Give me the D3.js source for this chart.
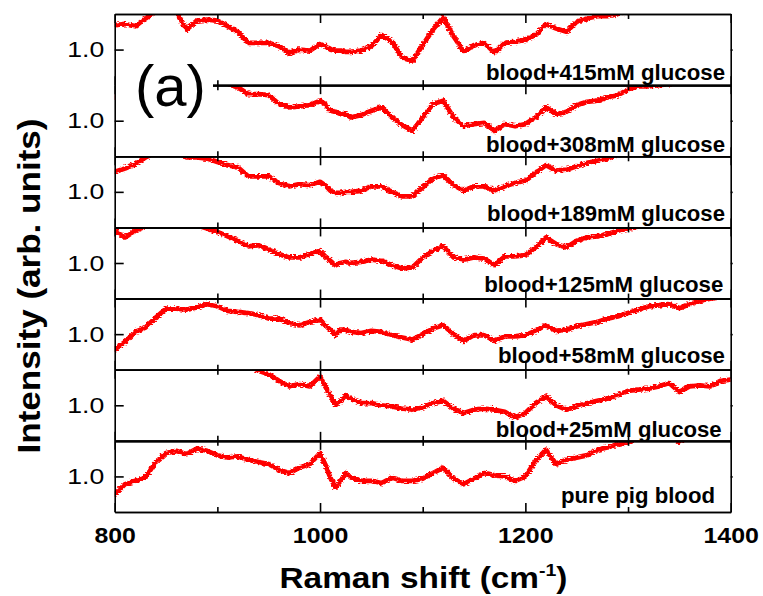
<!DOCTYPE html>
<html><head><meta charset="utf-8">
<script src="https://cdn.jsdelivr.net/npm/d3@7"></script>
<style>
body{margin:0;background:#fff;}
svg{display:block;}
text{font-family:"Liberation Sans",Arial,Helvetica,sans-serif;}
</style>
</head><body>
<svg id="chart" width="763" height="596"></svg>
<script>
// ---- data (Raman shift in cm^-1, intensity in arb. units) ----
const wavenumbers = [800,810,820,830,840,850,860,870,880,890,900,910,920,930,940,950,960,970,980,990,1000,
  1005,1010,1015,1020,1025,
  1030,1040,1050,1060,1070,1080,1090,1100,
  1110,1120,1130,1140,1150,1160,1170,1180,1190,1200,
  1210,1220,1230,1240,1250,1260,1270,1280,1290,1300,
  1310,1320,1330,1340,1350,1360,1370,1380,1390,1400];

const s415 = [1.22,1.23,1.21,1.28,1.34,1.36,1.34,1.18,1.26,1.27,1.26,1.21,1.16,1.06,1.06,1.06,1.03,0.97,1.00,0.99,1.05,
  1.03,1.00,0.99,0.99,0.98,
  0.98,0.99,1.03,1.13,1.07,0.93,0.90,1.04,
  1.18,1.29,1.12,0.98,1.04,1.06,0.97,1.06,1.07,1.09,
  1.13,1.23,1.19,1.16,1.25,1.28,1.30,1.30,1.32,1.34,
  1.36,1.38,1.39,1.40,1.42,1.43,1.44,1.45,1.46,1.47];

const s308 = [1.21,1.29,1.34,1.38,1.40,1.40,1.38,1.36,1.38,1.40,1.38,1.33,1.30,1.24,1.24,1.23,1.15,1.12,1.13,1.14,1.18,
  1.15,1.09,1.08,1.06,1.06,
  1.03,1.05,1.09,1.12,1.03,0.96,0.91,1.03,
  1.15,1.18,1.03,0.95,0.97,0.98,0.91,0.97,0.95,0.97,
  1.03,1.12,1.06,1.08,1.14,1.17,1.18,1.21,1.23,1.28,
  1.31,1.31,1.32,1.33,1.35,1.36,1.38,1.39,1.40,1.41];

const s189 = [1.18,1.21,1.25,1.31,1.35,1.37,1.36,1.31,1.31,1.30,1.27,1.24,1.22,1.14,1.14,1.14,1.08,1.05,1.07,1.06,1.09,
  1.06,1.01,0.99,0.99,1.00,
  1.00,1.01,1.05,1.05,1.00,0.96,0.96,1.04,
  1.12,1.15,1.06,1.01,1.05,1.05,1.01,1.05,1.08,1.10,
  1.17,1.24,1.19,1.20,1.23,1.26,1.28,1.30,1.33,1.35,
  1.37,1.39,1.40,1.42,1.43,1.45,1.46,1.47,1.48,1.49];

const s125 = [1.29,1.23,1.29,1.33,1.36,1.37,1.36,1.35,1.34,1.31,1.28,1.24,1.20,1.15,1.16,1.12,1.08,1.05,1.05,1.08,1.11,
  1.06,1.02,0.98,1.00,1.01,
  1.00,1.01,1.03,1.02,0.98,0.95,0.96,1.05,
  1.11,1.15,1.05,1.03,1.05,1.04,0.98,1.06,1.06,1.07,
  1.14,1.23,1.17,1.14,1.20,1.23,1.24,1.26,1.29,1.31,
  1.33,1.35,1.36,1.38,1.39,1.40,1.41,1.42,1.43,1.44];

const s58 = [0.86,0.93,1.02,1.06,1.15,1.23,1.23,1.22,1.24,1.27,1.25,1.21,1.20,1.19,1.17,1.14,1.14,1.10,1.08,1.11,1.13,
  1.08,1.04,0.99,1.04,1.04,
  1.02,1.01,1.03,1.02,0.99,0.97,0.95,1.00,
  1.05,1.08,1.00,0.94,0.99,0.99,0.94,0.98,0.98,0.99,
  1.03,1.08,1.03,1.04,1.07,1.09,1.11,1.14,1.16,1.19,
  1.22,1.25,1.26,1.27,1.23,1.27,1.30,1.32,1.33,1.34];

const s25 = [1.36,1.40,1.45,1.50,1.53,1.56,1.57,1.57,1.56,1.56,1.52,1.48,1.43,1.37,1.31,1.28,1.22,1.17,1.19,1.17,1.26,
  1.17,1.09,1.00,1.04,1.09,
  1.06,1.02,1.02,1.00,0.99,0.97,0.96,0.98,
  1.02,1.04,0.97,0.93,0.96,0.97,0.96,0.94,0.89,0.93,
  1.02,1.08,1.00,0.96,0.99,1.02,1.04,1.06,1.09,1.13,
  1.14,1.15,1.17,1.20,1.12,1.17,1.18,1.17,1.22,1.23];

const sPure = [0.84,0.93,0.96,0.99,1.13,1.21,1.23,1.20,1.25,1.23,1.19,1.17,1.18,1.15,1.13,1.11,1.06,1.03,1.08,1.11,1.21,
  1.11,0.99,0.90,0.96,1.03,
  0.99,0.96,0.96,0.94,0.99,0.96,0.96,0.98,
  1.03,1.08,0.98,0.93,0.98,1.03,1.01,1.00,0.96,1.00,
  1.14,1.24,1.11,1.15,1.17,1.19,1.24,1.26,1.29,1.31,
  1.33,1.35,1.37,1.38,1.31,1.38,1.40,1.41,1.42,1.43];

const seriesLabels = ["blood+415mM glucose","blood+308mM glucose","blood+189mM glucose",
  "blood+125mM glucose","blood+58mM glucose","blood+25mM glucose","pure pig blood"];
const xMajorTicks = [800,1000,1200,1400];
const xMinorTicks = [900,1100,1300];
const yTicks = [1.0];

// ---- layout ----
const plotLeft = 114.7, plotRight = 730.7, plotTop = 14, plotBottom = 512;
const allSeries = [s415, s308, s189, s125, s58, s25, sPure];
const nPanels = allSeries.length;
const panelH = (plotBottom - plotTop) / nPanels;
const labelBaseline = [80, 151.7, 221, 291.7, 363, 436.7, 502.7];
const labelRight = [725, 725, 725, 723.3, 725, 721.7, 715];
const labelWidth = [239, 239, 238, 239, 227, 226, 154];

const svg = d3.select("#chart");
svg.append("rect").attr("width", 763).attr("height", 596).attr("fill", "#fff");

const x = d3.scaleLinear().domain([800, 1400]).range([plotLeft, plotRight]);
const data = wavenumbers.map((w, j) => ({w, vals: allSeries.map(s => s[j])}));

const defs = svg.append("defs");
// rough, noisy-looking stroke (visual texture of a measured spectrum)
const flt = defs.append("filter").attr("id", "rough")
  .attr("x", "-2%").attr("y", "-20%").attr("width", "104%").attr("height", "140%");
flt.append("feTurbulence").attr("type", "fractalNoise").attr("baseFrequency", "0.35 0.9")
  .attr("numOctaves", 1).attr("seed", 3).attr("result", "noise");
flt.append("feDisplacementMap").attr("in", "SourceGraphic").attr("in2", "noise")
  .attr("scale", 5).attr("xChannelSelector", "R").attr("yChannelSelector", "G");

allSeries.forEach((series, i) => {
  const y0 = plotTop + i * panelH, y1 = y0 + panelH;
  const y = d3.scaleLinear().domain([0.68, 1.32]).range([y1, y0]);
  defs.append("clipPath").attr("id", "clip" + i)
    .append("rect").attr("x", plotLeft).attr("y", y0).attr("width", plotRight - plotLeft).attr("height", panelH);
  const line = d3.line().x(d => x(d.w)).y(d => y(d.vals[i]));
  svg.append("g").attr("clip-path", "url(#clip" + i + ")")
    .append("path").datum(data)
    .attr("filter", "url(#rough)")
    .attr("d", line)
    .attr("fill", "none").attr("stroke", "#ff0000")
    .attr("stroke-width", 4.8).attr("stroke-linejoin", "round").attr("stroke-linecap", "round");
});

// axes / frames
const axisStyle = g => {
  g.selectAll("path,line").attr("stroke", "#000").attr("stroke-width", 1.6);
};
allSeries.forEach((series, i) => {
  const y0 = plotTop + i * panelH, y1 = y0 + panelH;
  const y = d3.scaleLinear().domain([0.68, 1.32]).range([y1, y0]);
  svg.append("g").attr("transform", `translate(0,${y1})`)
    .call(d3.axisBottom(x).tickValues(xMajorTicks).tickSize(-9).tickSizeOuter(0).tickFormat(""))
    .call(axisStyle);
  svg.append("g").attr("transform", `translate(0,${y1})`)
    .call(d3.axisBottom(x).tickValues(xMinorTicks).tickSize(-5).tickSizeOuter(0).tickFormat(""))
    .call(axisStyle);
  svg.append("g").attr("transform", `translate(0,${y0})`)
    .call(d3.axisTop(x).tickValues(xMajorTicks).tickSize(-9).tickSizeOuter(0).tickFormat(""))
    .call(axisStyle);
  svg.append("g").attr("transform", `translate(0,${y0})`)
    .call(d3.axisTop(x).tickValues(xMinorTicks).tickSize(-5).tickSizeOuter(0).tickFormat(""))
    .call(axisStyle);
  const gl = svg.append("g").attr("transform", `translate(${plotLeft},0)`)
    .call(d3.axisLeft(y).tickValues(yTicks).tickSize(-9).tickSizeOuter(0).tickPadding(10.5).tickFormat(d3.format(".1f")))
    .call(axisStyle);
  gl.selectAll("text").attr("font-size", 22).attr("fill", "#000")
    .attr("font-family", "'Liberation Sans',Arial,sans-serif")
    .attr("textLength", 37).attr("lengthAdjust", "spacingAndGlyphs");
  svg.append("g").attr("transform", `translate(${plotRight},0)`)
    .call(d3.axisRight(y).tickValues(yTicks).tickSize(2).tickSizeOuter(0).tickFormat(""))
    .call(axisStyle);
  svg.append("text")
    .attr("x", labelRight[i]).attr("y", labelBaseline[i])
    .attr("text-anchor", "end").attr("font-weight", "bold").attr("font-size", 21.5)
    .attr("textLength", labelWidth[i]).attr("lengthAdjust", "spacingAndGlyphs")
    .attr("fill", "#000").text(seriesLabels[i]);
});

// x tick labels
const gx = svg.append("g").attr("transform", `translate(0,${plotBottom})`)
  .call(d3.axisBottom(x).tickValues(xMajorTicks).tickSize(0).tickPadding(15).tickFormat(d3.format("d")));
gx.select(".domain").remove();
gx.selectAll("text").attr("font-size", 22).attr("font-weight", "bold").attr("fill", "#000")
  .attr("font-family", "'Liberation Sans',Arial,sans-serif")
  .each(function(d){ d3.select(this).attr("textLength", String(d).length === 3 ? 41.5 : 55.5).attr("lengthAdjust","spacingAndGlyphs"); });

// (a) label with white background
svg.append("rect").attr("x", 116).attr("y", 57).attr("width", 97).attr("height", 59).attr("fill", "#fff");
svg.append("text").attr("x", 135).attr("y", 106).attr("font-size", 58).attr("fill", "#000").text("(a)");

// axis titles
const xt = svg.append("text").attr("transform", "translate(423.5,588) scale(1.15,1)")
  .attr("text-anchor", "middle").attr("font-size", 29).attr("font-weight", "bold").attr("fill", "#000");
xt.append("tspan").text("Raman shift (cm");
xt.append("tspan").attr("font-size", 17).attr("dy", -12).text("-1");
xt.append("tspan").attr("dy", 12).text(")");

svg.append("text").attr("transform", "translate(40,286) rotate(-90)")
  .attr("text-anchor", "middle").attr("font-size", 31).attr("font-weight", "bold").attr("fill", "#000")
  .attr("textLength", 335).attr("lengthAdjust", "spacingAndGlyphs")
  .text("Intensity (arb. units)");
</script>
</body></html>
